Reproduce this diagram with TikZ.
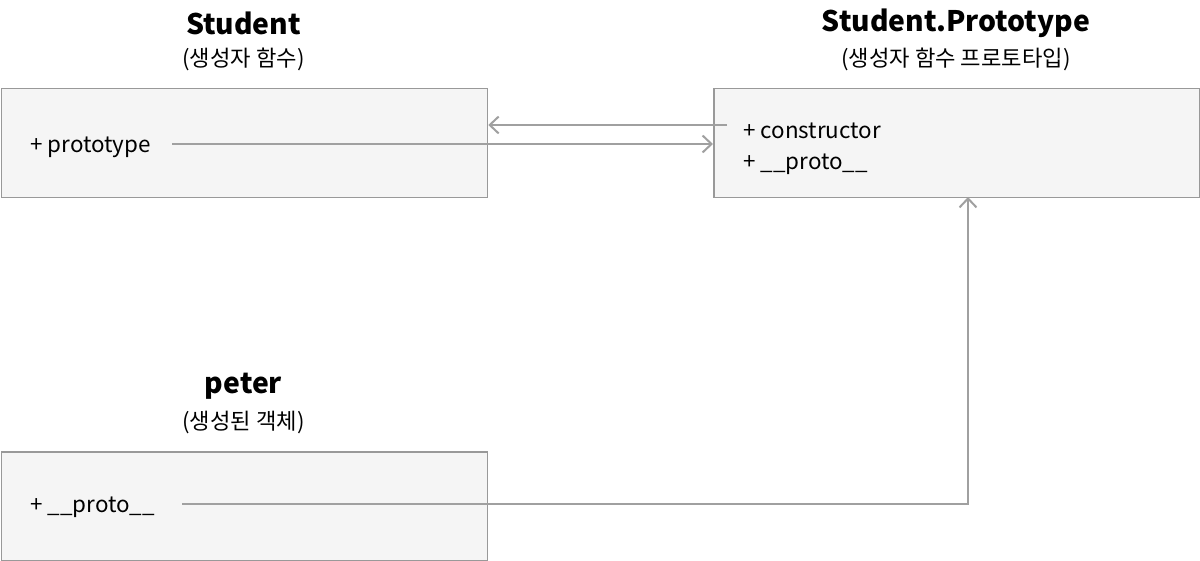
\documentclass[tikz,border=0pt]{standalone}
\usepackage{fontspec}
\setmainfont{Noto Sans CJK KR}
\usetikzlibrary{arrows.meta}
\definecolor{boxfill}{HTML}{F5F5F5}
\definecolor{boxline}{HTML}{999999}
\definecolor{conn}{HTML}{A0A0A0}
\tikzset{
  classbox/.style={draw=boxline, line width=1.5pt, fill=boxfill, rectangle, inner sep=0pt, anchor=north west},
  titletext/.style={font=\fontsize{28.3}{32}\selectfont\bfseries, inner sep=0pt, anchor=center},
  subtext/.style={font=\fontsize{22.2}{26}\selectfont, inner sep=0pt, anchor=center},
  itemtext/.style={font=\fontsize{22.4}{26}\selectfont, inner sep=0pt, anchor=west},
  conn/.style={draw=conn, line width=2pt},
  connarrow/.style={conn, -{Straight Barb[length=9pt,width=17pt,line width=2pt]}}
}
\begin{document}
\begin{tikzpicture}[x=1pt,y=-1pt]
\useasboundingbox (0,0) rectangle (1200,561);
% boxes
\node[classbox, minimum width=486pt, minimum height=109pt] (stu) at (0.75,88) {};
\node[classbox, minimum width=486pt, minimum height=109pt] (proto) at (713,88) {};
\node[classbox, minimum width=486pt, minimum height=109pt] (peter) at (0.75,451) {};
% titles
\node[titletext] (stuT) at (243.5,23) {Student};
\node[subtext] (stuS) at (243.5,59) {(생성자 함수)};
\node[titletext] (protoT) at (956,23) {Student.Prototype};
\node[subtext] (protoS) at (956,59) {(생성자 함수 프로토타입)};
\node[titletext] (peterT) at (243.5,386) {peter};
\node[subtext] (peterS) at (243.5,422) {(생성된 객체)};
% items
\node[itemtext] (stuI) at (30,147) {+ prototype};
\node[itemtext] (protoI1) at (743,130.5) {+ constructor};
\node[itemtext] (protoI2) at (743,164.5) {+ \_\_proto\_\_};
\node[itemtext] (peterI) at (30,507.5) {+ \_\_proto\_\_};
% connectors
\coordinate (c1) at (727,125);
\coordinate (c2) at (172,144);
\coordinate (c3) at (182,504);
\coordinate (c3t) at (968,197);
\draw[connarrow] (c1) -- (stu.east |- c1);
\draw[connarrow] (c2) -- (proto.west |- c2);
\draw[connarrow] (c3) -| (c3t);
\end{tikzpicture}
\end{document}
